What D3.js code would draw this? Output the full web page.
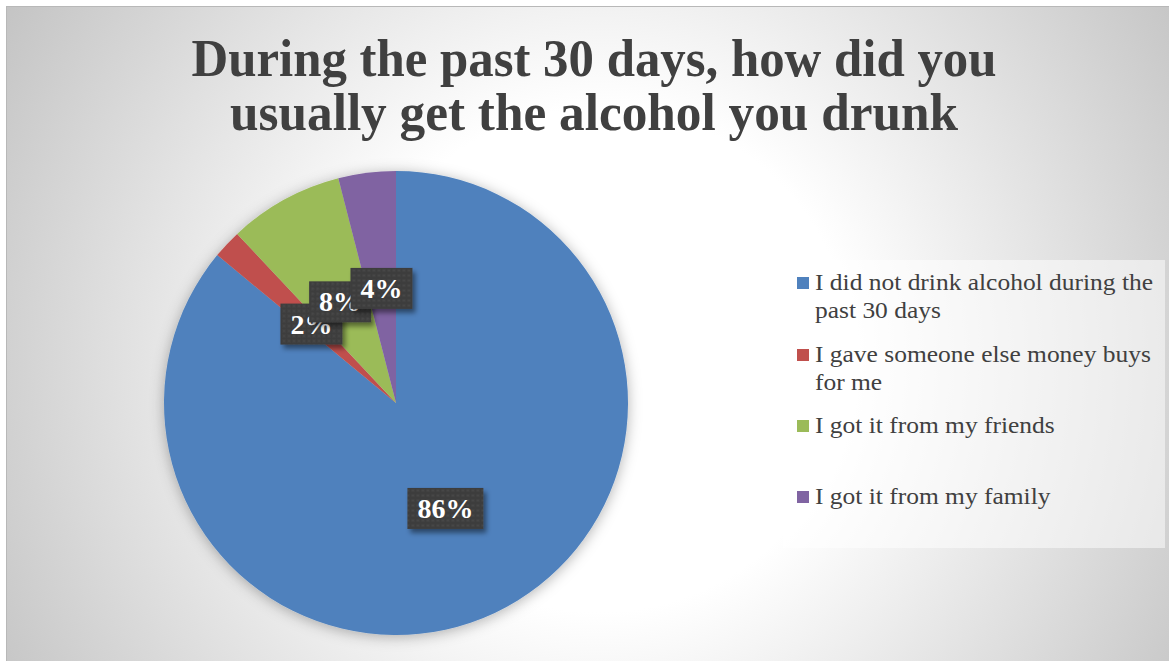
<!DOCTYPE html>
<html>
<head>
<meta charset="utf-8">
<script src="https://cdn.jsdelivr.net/npm/d3@7"></script>
<style>
  body { margin: 0; background: #fff; }
  svg { display: block; }
</style>
</head>
<body>
<div id="chart"></div>
<script>
// data
var categories = [
  ["I did not drink alcohol during the", "past 30 days"],
  ["I gave someone else money buys", "for me"],
  ["I got it from my friends"],
  ["I got it from my family"]
];
var values = [86, 2, 8, 4];
var colors = ["#4F81BD", "#C0504D", "#9BBB59", "#8064A2"];
var titleLines = ["During the past 30 days, how did you", "usually get the alcohol you drunk"];

var width = 1169, height = 661;
var cx = 396, cy = 403, radius = 232;

var svg = d3.select('#chart').append('svg')
  .attr('width', width).attr('height', height);

var defs = svg.append('defs');

// chart background gradient
var grad = defs.append('radialGradient').attr('id', 'bg')
  .attr('gradientUnits', 'userSpaceOnUse')
  .attr('cx', 600).attr('cy', 360).attr('r', 720);
grad.append('stop').attr('offset', 0).attr('stop-color', '#ffffff');
grad.append('stop').attr('offset', 0.35).attr('stop-color', '#ffffff');
grad.append('stop').attr('offset', 1).attr('stop-color', '#c0c0c0');

// soft shadow round the pie
var pieShadow = defs.append('filter').attr('id', 'pieShadow')
  .attr('x', '-20%').attr('y', '-20%').attr('width', '140%').attr('height', '140%');
pieShadow.append('feDropShadow').attr('dx', 0).attr('dy', 2)
  .attr('stdDeviation', 7).attr('flood-color', '#000').attr('flood-opacity', 0.3);

// label box shadow
var boxShadow = defs.append('filter').attr('id', 'boxShadow')
  .attr('x', '-30%').attr('y', '-30%').attr('width', '160%').attr('height', '170%');
boxShadow.append('feDropShadow').attr('dx', 3).attr('dy', 4)
  .attr('stdDeviation', 2.5).attr('flood-color', '#000').attr('flood-opacity', 0.45);

// dotted dark pattern for data labels
var pat = defs.append('pattern').attr('id', 'dots')
  .attr('patternUnits', 'userSpaceOnUse').attr('width', 5).attr('height', 5);
pat.append('rect').attr('width', 5).attr('height', 5).attr('fill', '#3e3e3e');
pat.append('circle').attr('cx', 2.5).attr('cy', 2.5).attr('r', 1.3).attr('fill', '#474747');

svg.append('rect')
  .attr('x', 6.5).attr('y', 6.5).attr('width', width).attr('height', height)
  .attr('fill', 'url(#bg)').attr('stroke', '#b8b8b8').attr('stroke-width', 1);

// title
var title = svg.append('g');
title.selectAll('text')
  .data(titleLines)
  .join('text')
  .attr('x', 594)
  .attr('y', function(d, i) { return 76 + i * 54; })
  .attr('text-anchor', 'middle')
  .attr('font-family', '"Liberation Serif", serif')
  .attr('font-weight', 'bold')
  .attr('font-size', 52)
  .attr('fill', '#404040')
  .attr('textLength', function(d, i) { return i === 0 ? 805 : 728; })
  .attr('lengthAdjust', 'spacingAndGlyphs')
  .text(function(d) { return d; });

// pie
var pie = d3.pie().sort(null).value(function(d) { return d; });
var arcs = pie(values);
var arc = d3.arc().innerRadius(0).outerRadius(radius);

var pieG = svg.append('g').attr('transform', 'translate(' + cx + ',' + cy + ')');
pieG.append('g').attr('filter', 'url(#pieShadow)')
  .selectAll('path')
  .data(arcs)
  .join('path')
  .attr('d', arc)
  .attr('fill', function(d, i) { return colors[i]; });

// data labels
var labels = pieG.selectAll('g.lbl')
  .data(arcs)
  .join('g')
  .attr('class', 'lbl')
  .attr('transform', function(d) { return 'translate(' + arc.centroid(d) + ')'; });

labels.append('rect').attr('class', 'box');
labels.append('text')
  .attr('text-anchor', 'middle')
  .attr('dy', '0.36em')
  .attr('font-family', '"Liberation Serif", serif')
  .attr('font-weight', 'bold')
  .attr('font-size', 28)
  .attr('fill', '#ffffff')
  .text(function(d) { return d.data + '%'; });

labels.each(function() {
  var g = d3.select(this);
  var w = g.select('text').node().getComputedTextLength() + 20;
  g.select('rect.box')
    .attr('x', -w / 2).attr('y', -20)
    .attr('width', w).attr('height', 41)
    .attr('fill', 'url(#dots)')
    .attr('filter', 'url(#boxShadow)');
});

// legend
var legend = svg.append('g');
legend.append('rect')
  .attr('x', 783).attr('y', 260).attr('width', 382).attr('height', 288)
  .attr('fill', '#ffffff').attr('fill-opacity', 0.5);

var itemY = [290, 362, 433, 504];
var items = legend.selectAll('g.item')
  .data(categories)
  .join('g')
  .attr('class', 'item')
  .attr('transform', function(d, i) { return 'translate(0,' + itemY[i] + ')'; });

items.append('rect')
  .attr('x', 797).attr('y', -13)
  .attr('width', 12).attr('height', 12)
  .attr('fill', function(d, i) { return colors[i]; });

var legendText = items.append('text')
  .attr('font-family', '"Liberation Serif", serif')
  .attr('font-size', 23)
  .attr('fill', '#404040');

legendText.selectAll('tspan')
  .data(function(d) { return d; })
  .join('tspan')
  .attr('x', 815)
  .attr('y', function(d, j) { return j * 28; })
  .text(function(d) { return d; });

// stretch legend lines a little so they fill like the original face
var target = 338;
var first = legendText.select('tspan').node().getComputedTextLength();
var k = target / first;
legendText.selectAll('tspan').each(function() {
  var t = d3.select(this);
  t.attr('textLength', this.getComputedTextLength() * k)
    .attr('lengthAdjust', 'spacingAndGlyphs');
});
</script>
</body>
</html>
